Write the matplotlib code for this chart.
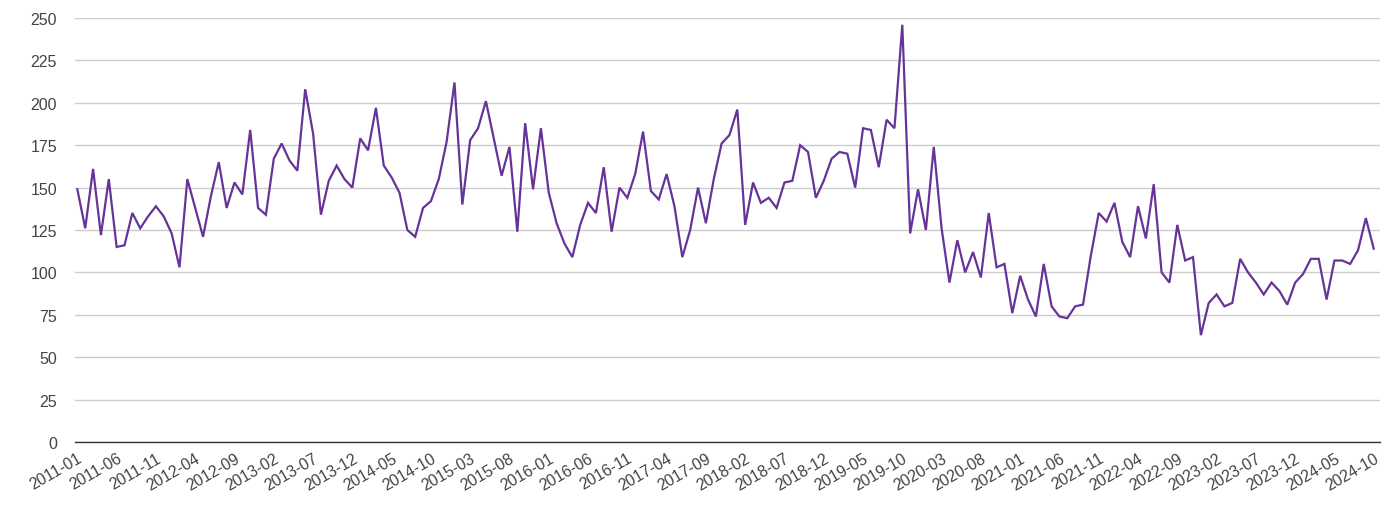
import matplotlib
matplotlib.use('Agg')
import matplotlib.pyplot as plt
import pandas as pd

# monthly values, 2011-01 .. 2024-10
months = pd.period_range('2011-01', '2024-10', freq='M').strftime('%Y-%m').tolist()

values = [
    149, 126, 161, 122, 155, 115, 116, 135, 126, 133, 139, 133,   # 2011
    123, 103, 155, 138, 121, 145, 165, 138, 153, 146, 184, 138,   # 2012
    134, 167, 176, 166, 160, 208, 182, 134, 154, 163, 155, 150,   # 2013
    179, 172, 197, 163, 156, 147, 125, 121, 138, 142, 155, 177,   # 2014
    212, 140, 178, 185, 201, 179, 157, 174, 124, 188, 149, 185,   # 2015
    147, 129, 117, 109, 128, 141, 135, 162, 124, 150, 144, 158,   # 2016
    183, 148, 143, 158, 139, 109, 125, 150, 129, 155, 176, 181,   # 2017
    196, 128, 153, 141, 144, 138, 153, 154, 175, 171, 144, 154,   # 2018
    167, 171, 170, 150, 185, 184, 162, 190, 185, 246, 123, 149,   # 2019
    125, 174, 126, 94, 119, 100, 112, 97, 135, 103, 105, 76,      # 2020
    98, 84, 74, 105, 80, 74, 73, 80, 81, 110, 135, 130,           # 2021
    141, 118, 109, 139, 120, 152, 100, 94, 128, 107, 109, 63,     # 2022
    82, 87, 80, 82, 108, 100, 94, 87, 94, 89, 81, 94,             # 2023
    99, 108, 108, 84, 107, 107, 105, 113, 132, 114,               # 2024
]

yticks = list(range(0, 251, 25))

plt.rcParams['font.family'] = ['Liberation Sans', 'DejaVu Sans']

fig = plt.figure(figsize=(13.9, 5.1), dpi=100)
ax = fig.add_axes([75 / 1390, 67 / 510, 1305 / 1390, 424 / 510])

x = list(range(len(values)))
ax.plot(x, values, color='#663399', linewidth=1.6, solid_joinstyle='miter')

ax.set_xlim(-0.3, len(values) - 1 + 0.8)
ax.set_ylim(0, 250)
ax.set_yticks(yticks)
ax.set_xticks(x[::5])
ax.set_xticklabels(months[::5], rotation=30, ha='right', rotation_mode='anchor')

ax.grid(axis='y', color='#cccccc', linewidth=1)
ax.set_axisbelow(True)
for s in ['top', 'right', 'left']:
    ax.spines[s].set_visible(False)
ax.spines['bottom'].set_color('#333333')
ax.spines['bottom'].set_linewidth(1)
ax.tick_params(axis='both', length=0, labelsize=11.5, colors='#444444')
ax.tick_params(axis='y', pad=13)
ax.tick_params(axis='x', pad=6)

fig.savefig('out.png', dpi=100)
